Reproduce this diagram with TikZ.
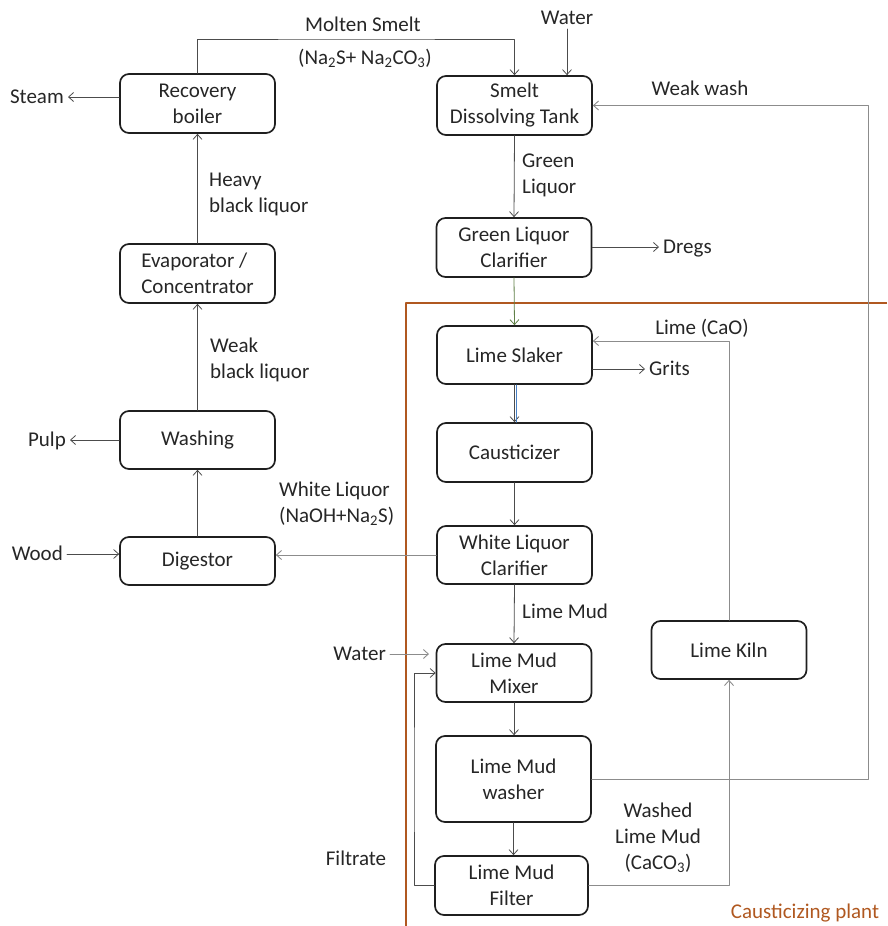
\documentclass[tikz,border=0pt]{standalone}
\usepackage{fontspec}
\setmainfont{Carlito}
\usetikzlibrary{arrows.meta}

\definecolor{plantbrown}{RGB}{176,88,32}
\definecolor{greenline}{RGB}{96,128,72}
\definecolor{blueline}{RGB}{72,128,196}

\begin{document}
\begin{tikzpicture}[x=1pt,y=-1pt,>={Straight Barb[length=5pt,width=9pt]},line cap=round,line join=round,
  unit/.style={draw=black!88,line width=1.7pt,rounded corners=9pt,minimum width=155pt,minimum height=58pt,inner sep=0pt,align=center,font=\fontsize{21}{26}\selectfont,text=black!85},
  lbl/.style={inner sep=2pt,align=left,font=\fontsize{21}{26}\selectfont,text=black!85},
  tag/.style={lbl,inner sep=4pt,text height=13.5pt,text depth=0pt},
  flow/.style={->,line width=0.8pt,black!70},
  side/.style={->,line width=0.9pt,black!45}]
\useasboundingbox (0,0) rectangle (887,926);

% units of the mill
\node[unit,minimum height=59pt] (boiler) at (197.5,103.5) {Recovery\\boiler};
\node[unit,minimum height=59pt] (smelt) at (514.5,105.5) {Smelt\\Dissolving Tank};
\node[unit,minimum height=59pt,align=left] (evap) at (197.5,273.5) {Evaporator /\\Concentrator};
\node[unit,minimum height=59pt] (glc) at (514,247.5) {Green Liquor\\Clarifier};
\node[unit] (slaker) at (514.5,355) {Lime Slaker};
\node[unit] (wash) at (197.5,440) {Washing};
\node[unit,minimum height=59pt] (caust) at (514.5,452.5) {Causticizer};
\node[unit,minimum height=48pt] (digest) at (197.5,561) {Digestor};
\node[unit] (wlc) at (514.5,555) {White Liquor\\Clarifier};
\node[unit] (mixer) at (514,673) {Lime Mud\\Mixer};
\node[unit] (kiln) at (729,650) {Lime Kiln};
\node[unit,minimum height=86pt] (washer) at (513.5,779) {Lime Mud\\washer};
\node[unit,minimum width=153pt,minimum height=59pt] (filter) at (511.5,885.5) {Lime Mud\\Filter};

% causticizing plant border
\draw[plantbrown,line width=1.8pt,line cap=butt] (887,303) -- (406,303) -- (406,926);
\node[lbl,text=plantbrown] (plant) at (805,913) {Causticizing plant};

% bends of the return lines
\coordinate (smeltbend) at (357,39);
\coordinate (washturn) at (868,400);
\coordinate (limeturn) at (729,341);
\coordinate (filtturn) at (414,780);
\coordinate (watertip) at (429,654);

% end labels
\node[tag,anchor=east] (steam) at (68,97) {Steam};
\node[tag,anchor=east] (pulp) at (70,440) {Pulp};
\node[tag,anchor=east] (wood) at (67,554) {Wood};
\node[tag,anchor=south] (water1) at (567,29) {Water};
\node[tag,anchor=west] (dregs) at (659,247) {Dregs};
\node[tag,anchor=west] (grits) at (645,369) {Grits};
\node[tag,anchor=east] (water2) at (390,654) {Water};

% stream labels
\node[lbl,align=center] (moltenlbl) at (363,24) {Molten Smelt};
\node[lbl,align=center] (smeltform) at (365,58) {(Na\textsubscript{2}S+ Na\textsubscript{2}CO\textsubscript{3})};
\node[lbl,anchor=west] (heavylbl) at (207,194) {Heavy\\black liquor};
\node[lbl,anchor=west] (weaklbl) at (208,360) {Weak\\black liquor};
\node[lbl,anchor=west] (greenlbl) at (520,175) {Green\\Liquor};
\node[lbl,anchor=west] (whitelbl) at (277,504) {White Liquor\\(NaOH+Na\textsubscript{2}S)};
\node[lbl,anchor=west] (mudlbl) at (520,611) {Lime Mud};
\node[lbl] (weakwashlbl) at (700,88) {Weak wash};
\node[lbl] (limecaolbl) at (702,328) {Lime (CaO)};
\node[lbl,align=center] (washedlbl) at (658,838) {Washed\\Lime Mud\\(CaCO\textsubscript{3})};
\node[lbl] (filtratelbl) at (356,858) {Filtrate};

% liquor cycle
\draw[flow] (boiler.north) |- (smeltbend) -| (smelt.north);
\draw[flow] (water1.south) -- (water1.south |- smelt.north);
\draw[flow] (smelt.south) -- (glc.north);
\draw[flow] (glc.east |- dregs.west) -- (dregs.west);
\draw[->,line width=0.8pt,greenline] (glc.south) -- (slaker.north);
\draw[flow] (slaker.south) -- (caust.north);
\draw[blueline,line width=0.7pt] ([xshift=1.5pt]slaker.south) -- ([xshift=1.5pt]caust.north);
\draw[flow] (slaker.east |- grits.west) -- (grits.west);
\draw[flow] (caust.south) -- (wlc.north);
\draw[side] (wlc.west) -- (wlc.west -| digest.east);
\draw[flow] (wood.east) -- (wood.east -| digest.west);
\draw[flow] (digest.north) -- (wash.south);
\draw[flow] (wash.west |- pulp.east) -- (pulp.east);
\draw[flow] (wash.north) -- (evap.south);
\draw[flow] (evap.north) -- (boiler.south);
\draw[flow] (boiler.west |- steam.east) -- (steam.east);

% lime cycle
\draw[flow] (wlc.south) -- (mixer.north);
\draw[side] (water2.east) -- (watertip);
\draw[flow] (mixer.south) -- (mixer.south |- washer.north);
\draw[flow] (washer.south) -- (washer.south |- filter.north);
\draw[flow] (filter.west) -| (filtturn) |- (mixer.west);
\draw[side] (filter.east) -| (kiln.south);
\draw[side] (kiln.north) -- (limeturn) -- (limeturn -| slaker.east);
\draw[side] (washer.east) -| (washturn) |- (smelt.east);
\end{tikzpicture}
\end{document}
